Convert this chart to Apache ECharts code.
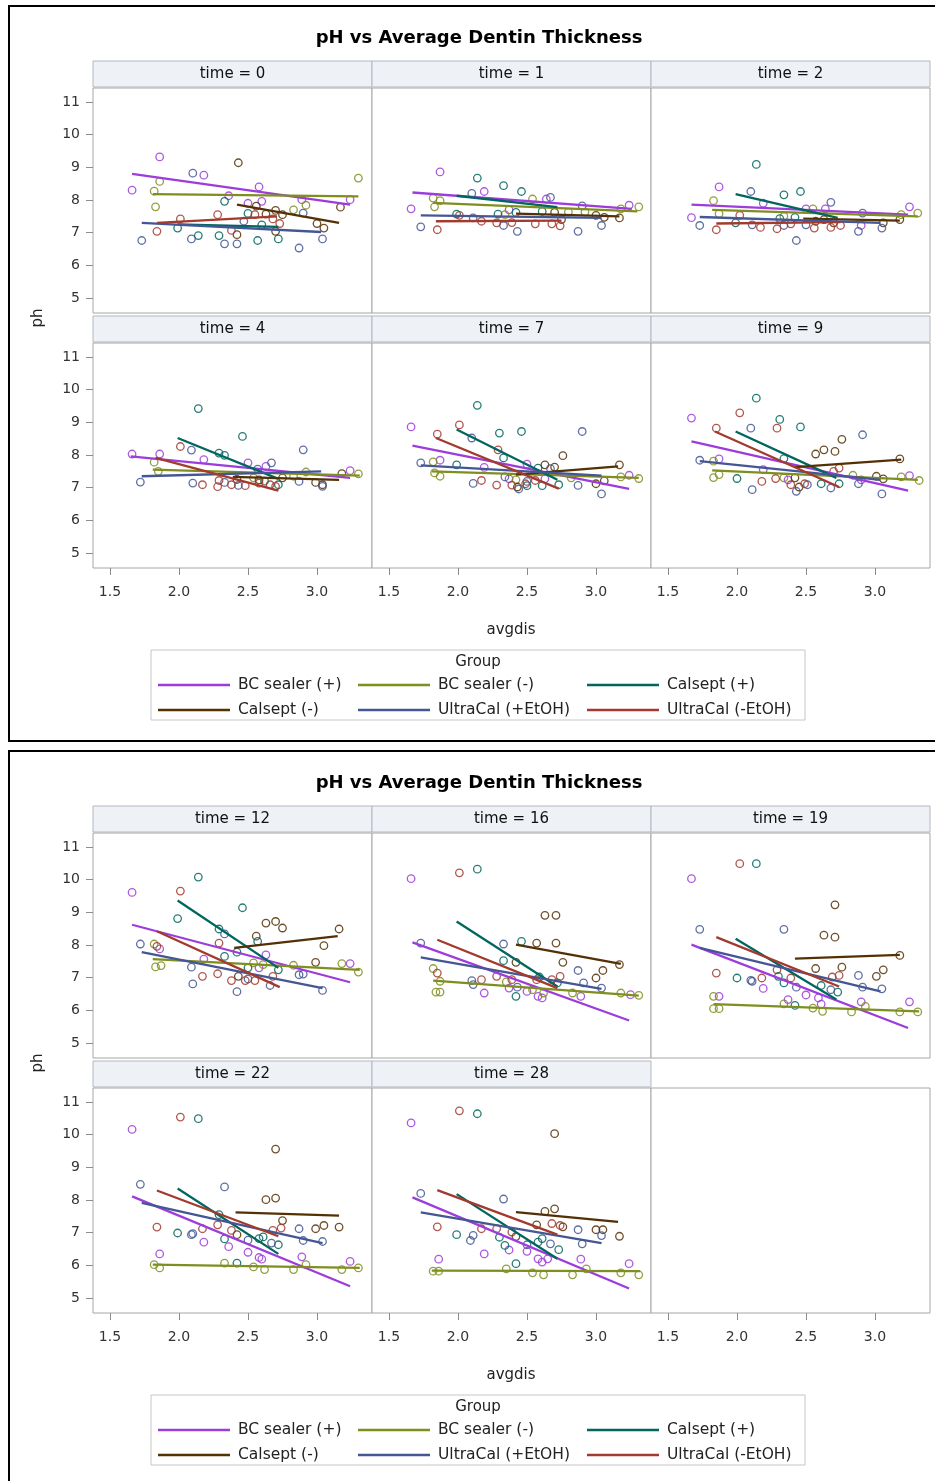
<!DOCTYPE html>
<html><head><meta charset="utf-8">
<script src="https://cdn.jsdelivr.net/npm/echarts@6/dist/echarts.min.js"></script>
<style>html,body{margin:0;padding:0;background:#fff}#c{width:935px;height:1481px}</style>
</head><body><div id="c"></div>
<script>
// ---------- data ----------
const groups = ['BC sealer (+)','BC sealer (-)','Calsept (+)','Calsept (-)','UltraCal (+EtOH)','UltraCal (-EtOH)'];
const times = [0,1,2,4,7,9,12,16,19,22,28];
const xTicks = [1.5,2.0,2.5,3.0];
const yTicks = [5,6,7,8,9,10,11];
const titleText = 'pH vs Average Dentin Thickness';
// points: [avgdis, ph, groupIndex]
const pts0 = [[1.86,9.32,0],[2.10,8.82,4],[2.18,8.76,0],[2.43,9.14,3],[3.30,8.67,1],[1.86,8.57,1],[1.66,8.30,0],[1.82,8.27,1],[2.58,8.40,0],[2.36,8.13,0],[2.33,7.96,2],[2.50,7.90,0],[2.60,7.96,0],[2.89,8.01,0],[2.92,7.84,1],[3.17,7.78,3],[3.24,8.01,0],[1.83,7.79,1],[2.56,7.81,3],[2.70,7.68,3],[2.83,7.70,1],[2.50,7.59,2],[2.55,7.55,5],[2.63,7.57,3],[2.75,7.55,3],[2.90,7.60,4],[2.28,7.55,5],[2.01,7.42,5],[2.68,7.42,5],[2.73,7.28,5],[2.47,7.35,4],[3.00,7.28,3],[3.05,7.14,3],[1.99,7.14,2],[2.60,7.24,2],[2.38,7.07,5],[2.42,6.94,3],[2.70,7.04,3],[1.84,7.04,5],[1.73,6.76,4],[2.09,6.81,4],[2.14,6.91,2],[2.29,6.91,2],[2.33,6.66,4],[2.42,6.66,4],[2.57,6.76,2],[2.72,6.81,2],[2.87,6.53,4],[3.04,6.81,4]];
const pts1 = [[1.87,8.86,0],[2.14,8.67,2],[2.33,8.44,2],[2.46,8.26,2],[2.19,8.26,0],[2.10,8.20,4],[1.82,8.06,1],[1.87,7.98,1],[1.83,7.79,1],[1.66,7.73,0],[2.54,8.03,1],[2.64,8.03,0],[2.67,8.08,4],[3.24,7.84,0],[3.31,7.79,1],[2.90,7.82,4],[2.37,7.70,0],[1.99,7.57,2],[2.01,7.53,5],[2.29,7.57,2],[2.34,7.55,1],[2.42,7.62,2],[2.61,7.65,2],[2.70,7.62,3],[2.80,7.63,1],[2.92,7.63,1],[3.00,7.53,3],[3.06,7.47,3],[3.17,7.45,3],[3.18,7.73,1],[1.73,7.18,4],[1.85,7.09,5],[2.17,7.35,5],[2.28,7.30,5],[2.33,7.22,4],[2.39,7.31,5],[2.43,7.04,4],[2.56,7.27,5],[2.68,7.27,5],[2.74,7.21,5],[2.75,7.40,3],[2.87,7.04,4],[3.04,7.22,4],[2.11,7.45,4]];
const pts2 = [[2.14,9.09,2],[1.87,8.40,0],[2.10,8.26,4],[2.34,8.16,2],[2.46,8.26,2],[1.83,7.98,1],[2.19,7.90,0],[2.68,7.93,4],[2.64,7.73,0],[2.55,7.73,1],[2.50,7.73,0],[1.87,7.58,1],[1.67,7.46,0],[1.73,7.22,4],[2.02,7.53,5],[1.99,7.30,2],[1.85,7.09,5],[2.31,7.43,2],[2.34,7.50,1],[2.42,7.47,2],[2.11,7.24,4],[2.17,7.16,5],[2.29,7.12,5],[2.34,7.22,4],[2.39,7.27,5],[2.43,6.76,4],[2.56,7.14,5],[2.68,7.16,5],[2.75,7.22,5],[2.50,7.24,4],[2.90,7.22,0],[2.88,7.04,4],[2.91,7.60,4],[3.05,7.14,4],[2.70,7.30,3],[3.06,7.30,3],[3.18,7.40,3],[3.19,7.55,1],[3.25,7.79,0],[3.31,7.60,1],[2.57,7.35,3],[2.63,7.40,3]];
const pts3 = [[2.14,9.42,2],[2.46,8.57,2],[2.90,8.16,4],[2.01,8.26,5],[2.09,8.15,4],[1.66,8.03,0],[1.86,8.03,0],[2.29,8.06,2],[2.33,7.99,2],[2.18,7.86,0],[2.50,7.76,0],[2.67,7.76,4],[2.63,7.65,0],[1.82,7.78,1],[1.85,7.50,1],[2.57,7.57,4],[2.92,7.48,1],[3.24,7.52,0],[3.30,7.42,1],[3.18,7.43,3],[1.72,7.17,4],[2.10,7.14,4],[2.17,7.09,5],[2.28,7.03,5],[2.29,7.22,5],[2.33,7.16,4],[2.38,7.09,5],[2.43,7.07,4],[2.48,7.06,5],[2.58,7.14,5],[2.66,7.09,5],[2.70,7.04,5],[2.72,7.09,2],[2.87,7.19,4],[2.99,7.16,3],[3.04,7.04,4],[3.04,7.09,3],[2.58,7.24,3],[2.75,7.30,3],[2.54,7.30,1],[2.83,7.35,1],[2.62,7.20,2],[2.42,7.25,3]];
const pts4 = [[2.14,9.52,2],[1.66,8.86,0],[2.01,8.92,5],[1.85,8.64,5],[2.30,8.67,2],[2.46,8.72,2],[2.10,8.52,4],[2.90,8.72,4],[2.29,8.16,5],[2.76,7.98,3],[2.33,7.91,2],[1.73,7.76,4],[1.82,7.79,1],[1.87,7.84,0],[1.99,7.70,2],[2.19,7.62,0],[2.50,7.72,0],[2.58,7.60,2],[2.63,7.70,3],[2.70,7.63,3],[2.67,7.58,4],[3.17,7.70,3],[3.24,7.38,0],[3.31,7.28,1],[3.18,7.33,1],[1.83,7.45,1],[1.87,7.35,1],[2.11,7.13,4],[2.17,7.22,5],[2.28,7.08,5],[2.34,7.33,4],[2.37,7.27,0],[2.39,7.08,5],[2.42,7.24,1],[2.43,7.02,3],[2.44,6.96,4],[2.49,7.12,5],[2.50,7.19,4],[2.50,7.06,2],[2.56,7.22,5],[2.61,7.06,2],[2.73,7.09,2],[2.63,7.27,0],[2.82,7.30,1],[2.87,7.07,4],[3.00,7.12,3],[3.06,7.21,3],[3.04,6.81,4]];
const pts5 = [[2.14,9.74,2],[1.67,9.13,0],[2.02,9.29,5],[2.31,9.09,2],[2.46,8.86,2],[2.29,8.82,5],[2.10,8.82,4],[1.85,8.82,5],[2.91,8.62,4],[2.76,8.48,3],[2.63,8.16,3],[2.71,8.11,3],[2.57,8.03,3],[1.73,7.84,4],[1.83,7.81,1],[1.87,7.88,0],[2.34,7.89,2],[3.18,7.88,3],[2.19,7.55,0],[1.83,7.31,1],[1.87,7.40,1],[2.00,7.28,2],[2.11,6.94,4],[2.18,7.19,5],[2.28,7.28,5],[2.34,7.30,1],[2.37,7.24,0],[2.42,7.30,3],[2.39,7.09,5],[2.43,6.89,4],[2.45,7.02,3],[2.49,7.12,5],[2.51,7.09,4],[2.74,7.60,5],[2.70,7.50,5],[2.61,7.12,2],[2.68,6.99,4],[2.74,7.12,2],[2.84,7.38,1],[2.90,7.24,0],[2.88,7.12,4],[3.01,7.35,3],[3.06,7.27,3],[3.05,6.81,4],[3.19,7.33,1],[3.25,7.37,0],[3.32,7.22,1]];
const pts6 = [[2.14,10.08,2],[1.66,9.61,0],[2.01,9.65,5],[2.46,9.14,2],[1.99,8.81,2],[2.63,8.67,3],[2.70,8.72,3],[2.75,8.52,3],[3.16,8.49,3],[2.56,8.27,3],[2.57,8.11,2],[2.29,8.49,2],[2.33,8.34,4],[2.29,8.06,5],[3.05,7.98,3],[1.72,8.03,4],[1.82,8.03,1],[1.84,7.96,5],[1.86,7.88,0],[2.42,7.78,2],[2.33,7.65,2],[2.63,7.70,0],[2.18,7.57,0],[1.83,7.33,1],[1.87,7.37,1],[2.09,7.32,4],[2.54,7.45,1],[2.61,7.40,1],[2.99,7.47,3],[2.83,7.38,1],[3.18,7.43,1],[3.24,7.43,0],[3.30,7.17,1],[2.17,7.04,5],[2.28,7.12,5],[2.10,6.81,4],[2.38,6.91,5],[2.43,7.04,3],[2.48,6.91,5],[2.50,6.96,4],[2.55,6.91,5],[2.42,6.57,4],[2.66,6.76,4],[2.68,7.04,5],[2.50,7.30,2],[2.72,7.24,2],[2.58,7.30,0],[2.87,7.09,4],[2.90,7.11,4],[3.04,6.61,4]];
const pts7 = [[1.66,10.03,0],[2.01,10.21,5],[2.14,10.32,2],[2.63,8.91,3],[2.71,8.91,3],[1.73,8.06,4],[2.46,8.11,2],[2.57,8.06,3],[2.71,8.06,3],[2.33,8.03,4],[2.33,7.52,2],[2.42,7.47,3],[2.76,7.47,3],[3.17,7.40,3],[2.87,7.22,4],[3.05,7.22,3],[3.00,6.99,3],[1.82,7.28,1],[1.85,7.14,5],[2.17,6.94,5],[2.28,7.04,5],[2.10,6.91,4],[2.11,6.79,4],[1.87,6.89,1],[1.84,6.56,1],[1.87,6.56,1],[2.19,6.53,0],[2.35,6.87,1],[2.39,6.94,5],[2.37,6.68,0],[2.43,6.71,4],[2.42,6.43,2],[2.50,6.58,0],[2.54,6.63,1],[2.58,6.43,0],[2.61,6.38,0],[2.62,6.53,1],[2.57,6.94,5],[2.68,6.94,5],[2.74,7.04,5],[2.59,7.02,2],[2.72,6.84,2],[2.91,6.84,4],[3.04,6.68,4],[2.83,6.53,1],[2.89,6.43,0],[3.18,6.53,1],[3.25,6.48,0],[3.31,6.46,1]];
const pts8 = [[2.02,10.49,5],[2.14,10.49,2],[1.67,10.03,0],[2.71,9.23,3],[1.73,8.48,4],[2.34,8.48,4],[2.63,8.30,3],[2.71,8.24,3],[3.18,7.68,3],[2.76,7.32,3],[2.57,7.28,3],[3.06,7.24,3],[3.01,7.04,3],[1.85,7.14,5],[2.00,6.99,2],[2.11,6.89,4],[2.18,6.99,5],[2.19,6.67,0],[2.29,7.24,5],[2.30,7.04,2],[2.34,6.84,2],[2.39,6.99,5],[2.43,6.71,4],[2.42,6.15,2],[2.37,6.33,0],[2.50,6.47,0],[2.59,6.38,0],[2.61,6.19,0],[2.55,6.07,1],[2.62,5.97,1],[2.61,6.76,2],[2.68,6.63,4],[2.73,6.56,2],[2.69,7.02,5],[2.74,7.07,5],[2.88,7.07,4],[2.91,6.71,4],[3.05,6.66,4],[2.90,6.26,0],[2.93,6.12,1],[2.83,5.95,1],[3.25,6.26,0],[3.18,5.95,1],[3.31,5.95,1],[1.83,6.43,1],[1.87,6.43,0],[1.83,6.05,1],[1.87,6.05,1],[2.34,6.20,1],[2.10,6.92,4]];
const pts9 = [[1.66,10.16,0],[2.01,10.54,5],[2.14,10.49,2],[2.70,9.56,3],[1.72,8.48,4],[2.33,8.40,4],[2.63,8.01,3],[2.70,8.06,3],[2.75,7.37,3],[2.99,7.12,3],[3.05,7.22,3],[3.16,7.17,3],[1.84,7.17,5],[1.99,6.99,2],[2.09,6.94,4],[2.10,6.97,4],[2.17,7.12,5],[2.18,6.71,0],[2.28,7.24,5],[2.29,7.55,2],[2.33,6.81,2],[2.38,7.07,5],[2.42,6.94,3],[2.36,6.57,0],[2.50,6.77,4],[2.58,6.82,2],[2.61,6.87,2],[2.68,7.07,5],[2.74,7.14,5],[2.67,6.68,4],[2.72,6.63,2],[2.50,6.40,0],[2.58,6.24,0],[2.60,6.19,0],[2.33,6.07,1],[2.42,6.07,2],[2.54,5.95,1],[2.62,5.87,1],[2.89,6.26,0],[2.92,6.02,1],[2.83,5.87,1],[2.87,7.12,4],[2.90,6.76,4],[3.04,6.73,4],[3.24,6.12,0],[3.18,5.87,1],[3.30,5.92,1],[1.86,6.35,0],[1.82,6.02,1],[1.86,5.92,1]];
const pts10 = [[1.66,10.36,0],[2.01,10.73,5],[2.14,10.64,2],[2.70,10.03,3],[1.73,8.20,4],[2.33,8.03,4],[2.63,7.65,3],[2.70,7.73,3],[2.68,7.28,5],[2.74,7.22,5],[2.76,7.18,3],[2.57,7.24,3],[1.85,7.18,5],[1.99,6.94,2],[2.11,6.92,4],[2.09,6.76,4],[2.17,7.12,5],[2.28,7.12,5],[2.30,6.86,2],[2.34,6.61,2],[2.39,7.02,5],[2.42,6.88,3],[2.19,6.35,0],[2.37,6.47,0],[2.50,6.43,0],[2.50,6.63,4],[2.58,6.71,2],[2.61,6.82,2],[2.67,6.66,4],[2.73,6.48,2],[2.58,6.20,0],[2.61,6.10,0],[2.65,6.20,0],[2.42,6.05,2],[2.35,5.89,1],[2.54,5.77,1],[2.62,5.71,1],[2.89,6.19,0],[2.93,5.89,1],[2.83,5.71,1],[2.87,7.09,4],[2.90,6.66,4],[3.04,6.91,4],[3.00,7.09,3],[3.05,7.09,3],[3.17,6.89,3],[3.24,6.05,0],[3.18,5.77,1],[3.31,5.71,1],[1.86,6.19,0],[1.82,5.82,1],[1.86,5.82,1]];
// fitted lines per group (group order): [x1, y1, x2, y2]
const fit0 = [[1.66,8.80,3.24,7.86],[1.81,8.18,3.30,8.11],[1.99,7.25,2.72,7.18],[2.42,7.86,3.16,7.30],[1.73,7.30,3.03,7.02],[1.84,7.30,2.71,7.50]];
const fit1 = [[1.67,8.23,3.26,7.73],[1.82,7.91,3.30,7.65],[1.99,8.13,2.72,7.78],[2.42,7.58,3.17,7.50],[1.73,7.53,3.04,7.45],[1.84,7.35,2.75,7.37]];
const fit2 = [[1.67,7.86,3.24,7.55],[1.82,7.70,3.31,7.50],[1.99,8.18,2.73,7.45],[2.48,7.43,3.18,7.37],[1.73,7.48,3.04,7.30],[1.85,7.28,2.75,7.32]];
const fit3 = [[1.65,7.96,3.24,7.30],[1.81,7.55,3.31,7.37],[1.99,8.52,2.72,7.27],[2.39,7.33,3.16,7.24],[1.73,7.35,3.03,7.50],[1.83,7.91,2.72,6.91]];
const fit4 = [[1.67,8.29,3.24,6.96],[1.81,7.50,3.31,7.30],[1.99,8.78,2.72,7.24],[2.42,7.40,3.16,7.65],[1.73,7.68,3.04,7.37],[1.84,8.52,2.73,6.97]];
const fit5 = [[1.67,8.42,3.24,6.91],[1.82,7.53,3.31,7.24],[1.99,8.72,2.72,7.30],[2.42,7.63,3.19,7.86],[1.73,7.81,3.04,7.24],[1.84,8.72,2.74,7.02]];
const fit6 = [[1.66,8.62,3.24,6.86],[1.81,7.57,3.31,7.24],[1.99,9.36,2.72,7.30],[2.40,7.91,3.15,8.27],[1.73,7.78,3.04,6.68],[1.84,8.42,2.73,6.71]];
const fit7 = [[1.67,8.08,3.24,5.69],[1.82,6.91,3.31,6.45],[1.99,8.72,2.72,6.73],[2.42,8.01,3.18,7.42],[1.73,7.62,3.04,6.66],[1.85,8.16,2.72,6.68]];
const fit8 = [[1.67,8.01,3.24,5.46],[1.83,6.19,3.32,5.97],[1.99,8.19,2.72,6.33],[2.42,7.58,3.18,7.70],[1.73,7.91,3.04,6.58],[1.85,8.24,2.74,6.73]];
const fit9 = [[1.66,8.11,3.24,5.36],[1.81,6.02,3.31,5.92],[1.99,8.35,2.72,6.35],[2.41,7.62,3.16,7.52],[1.73,7.91,3.04,6.68],[1.84,8.29,2.72,6.89]];
const fit10 = [[1.67,8.08,3.24,5.29],[1.81,5.84,3.32,5.82],[1.99,8.18,2.72,6.20],[2.42,7.63,3.16,7.33],[1.73,7.62,3.04,6.68],[1.85,8.30,2.72,6.94]];

const allPts = [pts0,pts1,pts2,pts3,pts4,pts5,pts6,pts7,pts8,pts9,pts10];
const allFits = [fit0,fit1,fit2,fit3,fit4,fit5,fit6,fit7,fit8,fit9,fit10];

// ---------- style / layout ----------
const colors = ['#9D3CDB','#7F8E1F','#01665E','#543005','#445694','#A23A2E'];
const FONT = 'DejaVu Sans';
const X_MIN = 1.3768, X_MAX = 3.3986, Y_MIN = 4.541, Y_MAX = 11.4286;
const colLeft = [93, 372, 651], cellW = 279, cellH = 225;
const rowTop = [88, 343], panelOff = [0, 745];

const grids = [], xAxes = [], yAxes = [], series = [], graphics = [];

for (let i = 0; i < 12; i++) {
  const p = Math.floor(i / 6), k = i % 6, r = Math.floor(k / 3), c = k % 3;
  const top = rowTop[r] + panelOff[p];
  grids.push({left: colLeft[c], top: top, width: cellW, height: cellH,
    show: true, borderColor: '#a6a6a6', borderWidth: 1, backgroundColor: '#fff'});
  xAxes.push({type: 'value', gridIndex: i, min: X_MIN, max: X_MAX,
    axisLine: {show: false}, splitLine: {show: false},
    axisTick: {show: r === 1, customValues: xTicks, length: 7, lineStyle: {color: '#8c8c8c'}},
    axisLabel: {show: r === 1, customValues: xTicks, margin: 17, fontFamily: FONT, fontSize: 14, color: '#333',
      formatter: v => Number(v).toFixed(1)}});
  yAxes.push({type: 'value', gridIndex: i, min: Y_MIN, max: Y_MAX,
    axisLine: {show: false}, splitLine: {show: false},
    axisTick: {show: c === 0, customValues: yTicks, length: 7, lineStyle: {color: '#8c8c8c'}},
    axisLabel: {show: c === 0, customValues: yTicks, margin: 13, fontFamily: FONT, fontSize: 14, color: '#333'}});

  const f = p * 6 + k;
  const hdrTop = top - 27;
  if (f < times.length) {
    graphics.push({type: 'rect', shape: {x: colLeft[c], y: hdrTop, width: cellW, height: 26},
      style: {fill: '#eef1f6', stroke: '#b3b8be', lineWidth: 1}, z: 10});
    graphics.push({type: 'text', x: colLeft[c] + cellW / 2, y: hdrTop + 13,
      style: {text: 'time = ' + times[f], fontFamily: FONT, fontSize: 15, fill: '#111', align: 'center', verticalAlign: 'middle'}, z: 11});
    const pts = allPts[f], fits = allFits[f];
    for (let g = 0; g < groups.length; g++) {
      series.push({type: 'scatter', name: groups[g], xAxisIndex: i, yAxisIndex: i,
        data: pts.filter(d => d[2] === g).map(d => [d[0], d[1]]),
        symbol: 'circle', symbolSize: 7.5, z: 2,
        itemStyle: {color: 'rgba(255,255,255,0)', borderColor: colors[g], borderWidth: 1.3, opacity: 0.85}});
    }
    for (let g = 0; g < groups.length; g++) {
      const L = fits[g];
      series.push({type: 'line', name: groups[g], xAxisIndex: i, yAxisIndex: i,
        data: [[L[0], L[1]], [L[2], L[3]]], showSymbol: false, symbol: 'none', z: 3,
        lineStyle: {color: colors[g], width: 2.3}});
    }
  }
}

// panel decorations
for (let p = 0; p < 2; p++) {
  const o = panelOff[p];
  graphics.push({type: 'rect', shape: {x: 9, y: 6 + o, width: 940, height: 735},
    style: {fill: 'none', stroke: '#000', lineWidth: 2}, z: 20});
  graphics.push({type: 'text', x: 479, y: 38 + o,
    style: {text: titleText, fontFamily: FONT, fontWeight: 'bold', fontSize: 18, fill: '#000', align: 'center', verticalAlign: 'middle'}, z: 11});
  graphics.push({type: 'text', x: 511, y: 630 + o,
    style: {text: 'avgdis', fontFamily: FONT, fontSize: 15, fill: '#222', align: 'center', verticalAlign: 'middle'}, z: 11});
  graphics.push({type: 'text', x: 38, y: 318 + o, rotation: Math.PI / 2,
    style: {text: 'ph', fontFamily: FONT, fontSize: 15, fill: '#222', align: 'center', verticalAlign: 'middle'}, z: 11});
  // legend
  graphics.push({type: 'rect', shape: {x: 151, y: 650 + o, width: 654, height: 70},
    style: {fill: '#fff', stroke: '#c6c6c6', lineWidth: 1}, z: 10});
  graphics.push({type: 'text', x: 478, y: 662 + o,
    style: {text: 'Group', fontFamily: FONT, fontSize: 15, fill: '#222', align: 'center', verticalAlign: 'middle'}, z: 11});
  const lx = [158, 358, 587], ly = [685, 710];
  for (let g = 0; g < groups.length; g++) {
    const cx = lx[g % 3], cy = ly[Math.floor(g / 3)] + o;
    graphics.push({type: 'line', shape: {x1: cx, y1: cy, x2: cx + 72, y2: cy},
      style: {stroke: colors[g], lineWidth: 2.5}, z: 11});
    graphics.push({type: 'text', x: cx + 80, y: cy,
      style: {text: groups[g], fontFamily: FONT, fontSize: 15.5, fill: '#222', align: 'left', verticalAlign: 'middle'}, z: 11});
  }
}

const chart = echarts.init(document.getElementById('c'), null, {renderer: 'canvas'});
chart.setOption({
  animation: false,
  backgroundColor: '#fff',
  grid: grids, xAxis: xAxes, yAxis: yAxes, series: series,
  graphic: graphics
});
</script></body></html>
